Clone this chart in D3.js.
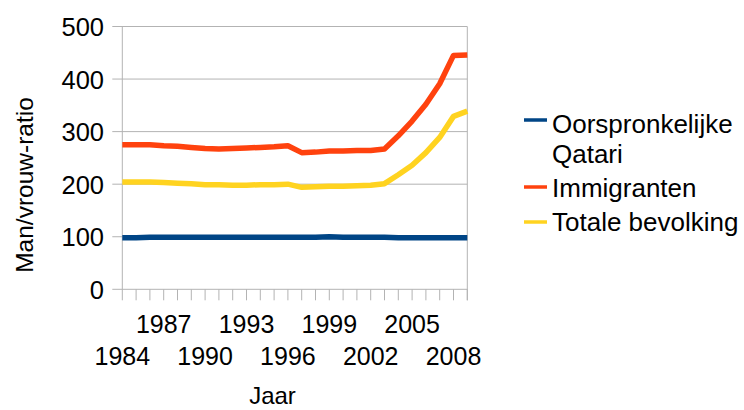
<!DOCTYPE html>
<html>
<head>
<meta charset="utf-8">
<script src="https://cdn.jsdelivr.net/npm/d3@7"></script>
<style>
  body { margin: 0; background: #fff; }
  text { font-family: "Liberation Sans", Arial, sans-serif; fill: #000; }
</style>
</head>
<body>
<div class="container"></div>
<script>
  // data
  var years = d3.range(1984, 2010);
  var yTicks = [0, 100, 200, 300, 400, 500];
  var labelYears = [1984, 1987, 1990, 1993, 1996, 1999, 2002, 2005, 2008];

  var qatari = [98, 98, 99, 99, 99, 99, 99, 99, 99, 99, 99, 99, 99, 99, 99, 100, 99, 99, 99, 99, 98, 98, 98, 98, 98, 98];
  var immigranten = [275, 275, 275, 273, 272, 270, 268, 267, 268, 269, 270, 271, 273, 260, 261, 263, 263, 264, 264, 267, 292, 320, 352, 391, 445, 446];
  var totaal = [204, 204, 204, 203, 202, 201, 199, 199, 198, 198, 199, 199, 200, 194, 195, 196, 196, 197, 198, 201, 218, 236, 260, 289, 329, 339];

  var seriesNames = ["Oorspronkelijke Qatari", "Immigranten", "Totale bevolking"];
  var colors = ["#004586", "#ff420e", "#ffd320"];

  // frame
  var w = 744, h = 410;
  var plotLeft = 122.3, plotRight = 467.3, plotTop = 26.5, plotBottom = 289.3;

  var svg = d3.select(".container").append("svg").attr("width", w).attr("height", h);

  var x = d3.scalePoint().domain(years).range([plotLeft, plotRight]);
  var y = d3.scaleLinear().domain([0, 500]).range([plotBottom, plotTop]);

  // gridlines
  svg.append("g")
    .selectAll("line")
    .data(yTicks)
    .enter()
    .append("line")
    .attr("x1", plotLeft - 10).attr("x2", plotRight)
    .attr("y1", function(d){ return y(d); })
    .attr("y2", function(d){ return y(d); })
    .attr("stroke", "#b3b3b3").attr("stroke-width", 1);

  // left + right frame lines
  svg.append("line").attr("x1", plotLeft).attr("x2", plotLeft).attr("y1", plotTop).attr("y2", plotBottom)
    .attr("stroke", "#b3b3b3");
  svg.append("line").attr("x1", plotRight).attr("x2", plotRight).attr("y1", plotTop).attr("y2", plotBottom + 11)
    .attr("stroke", "#b3b3b3");

  // x ticks
  svg.append("g")
    .selectAll("line")
    .data(years)
    .enter()
    .append("line")
    .attr("x1", function(d){ return x(d); })
    .attr("x2", function(d){ return x(d); })
    .attr("y1", plotBottom).attr("y2", plotBottom + 11)
    .attr("stroke", "#b3b3b3");

  // y tick labels
  svg.append("g")
    .selectAll("text")
    .data(yTicks)
    .enter()
    .append("text")
    .attr("x", 104)
    .attr("y", function(d){ return y(d) + 9.5; })
    .attr("text-anchor", "end")
    .style("font-size", "25.5px")
    .text(function(d){ return d; });

  // x labels, staggered in two rows
  svg.append("g")
    .selectAll("text")
    .data(labelYears)
    .enter()
    .append("text")
    .attr("x", function(d){ return x(d); })
    .attr("y", function(d, i){ return i % 2 == 0 ? 365 : 333; })
    .attr("text-anchor", "middle")
    .style("font-size", "25px")
    .text(function(d){ return d; });

  // axis titles
  svg.append("text")
    .attr("transform", "translate(33,185) rotate(-90)")
    .attr("text-anchor", "middle")
    .style("font-size", "24.5px")
    .text("Man/vrouw-ratio");

  svg.append("text")
    .attr("x", 272.5).attr("y", 404)
    .attr("text-anchor", "middle")
    .style("font-size", "24px")
    .text("Jaar");

  // lines
  var line = d3.line()
    .x(function(d, i){ return x(years[i]); })
    .y(function(d){ return y(d); });

  var allSeries = [qatari, immigranten, totaal];

  svg.append("g")
    .selectAll("path")
    .data(allSeries)
    .enter()
    .append("path")
    .attr("d", line)
    .attr("fill", "none")
    .attr("stroke", function(d, i){ return colors[i]; })
    .attr("stroke-width", 5.5)
    .attr("stroke-linejoin", "round");

  // legend
  var legendRows = [
    { lines: ["Oorspronkelijke", "Qatari"], y: 120, base: 133 },
    { lines: ["Immigranten"], y: 187, base: 197 },
    { lines: ["Totale bevolking"], y: 222, base: 231 }
  ];

  var legend = svg.append("g");
  legendRows.forEach(function(r, i){
    legend.append("line")
      .attr("x1", 524).attr("x2", 547)
      .attr("y1", r.y).attr("y2", r.y)
      .attr("stroke", colors[i]).attr("stroke-width", 3.5);
    r.lines.forEach(function(t, j){
      legend.append("text")
        .attr("x", 552)
        .attr("y", r.base + j * 30)
        .style("font-size", "26px")
        .text(t);
    });
  });
</script>
</body>
</html>
